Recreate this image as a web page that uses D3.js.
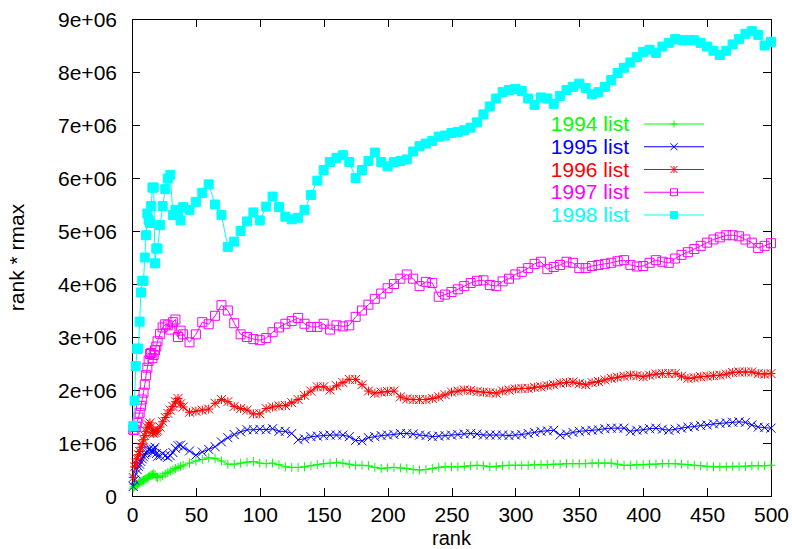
<!DOCTYPE html>
<html>
<head>
<meta charset="utf-8">
<script src="https://cdn.jsdelivr.net/npm/d3@7"></script>
<style>
  body { margin: 0; background: #fff; }
  svg { display: block; font-family: "Liberation Sans", Arial, Helvetica, sans-serif; }
</style>
</head>
<body>
<svg id="chart" width="792" height="549"></svg>
<script>
// rank positions sampled along the x axis
const ranks = [
  1, 2, 3, 4, 5, 6, 7, 8, 9, 10, 11, 12, 13, 14, 15, 16, 17, 18, 19, 20,
  22, 24, 26, 28, 30, 32, 34, 36, 38, 40,
  45, 50, 55, 60, 65, 70, 75, 80, 85, 90,
  95, 100, 105, 110, 115, 120, 125, 130, 135, 140,
  145, 150, 155, 160, 165, 170, 175, 180, 185, 190,
  195, 200, 205, 210, 215, 220, 225, 230, 235, 240,
  245, 250, 255, 260, 265, 270, 275, 280, 285, 290,
  295, 300, 305, 310, 315, 320, 325, 330, 335, 340,
  345, 350, 355, 360, 365, 370, 375, 380, 385, 390,
  395, 400, 405, 410, 415, 420, 425, 430, 435, 440,
  445, 450, 455, 460, 465, 470, 475, 480, 485, 490,
  495, 500
];

// rank * rmax, in units of 1e+06
const list1994 = [
  0.15, 0.18, 0.20, 0.22, 0.24, 0.26, 0.27, 0.28, 0.30, 0.31, 0.33, 0.34, 0.36, 0.38, 0.39, 0.40, 0.42, 0.40, 0.36, 0.35,
  0.36, 0.38, 0.42, 0.44, 0.47, 0.49, 0.52, 0.54, 0.56, 0.58,
  0.62, 0.66, 0.69, 0.72, 0.71, 0.66, 0.60, 0.60, 0.62, 0.64,
  0.65, 0.62, 0.61, 0.62, 0.59, 0.55, 0.54, 0.54, 0.55, 0.57,
  0.59, 0.61, 0.62, 0.63, 0.62, 0.60, 0.58, 0.58, 0.57, 0.54,
  0.52, 0.53, 0.54, 0.53, 0.52, 0.50, 0.49, 0.50, 0.52, 0.54,
  0.55, 0.55, 0.55, 0.56, 0.57, 0.58, 0.57, 0.55, 0.56, 0.57,
  0.58, 0.58, 0.58, 0.58, 0.59, 0.59, 0.59, 0.60, 0.60, 0.61,
  0.61, 0.61, 0.61, 0.62, 0.62, 0.62, 0.62, 0.60, 0.58, 0.58,
  0.59, 0.59, 0.60, 0.60, 0.61, 0.61, 0.61, 0.60, 0.59, 0.58,
  0.57, 0.56, 0.55, 0.55, 0.55, 0.56, 0.56, 0.56, 0.57, 0.57,
  0.57, 0.58
];
const list1995 = [
  0.18, 0.30, 0.42, 0.50, 0.56, 0.60, 0.65, 0.70, 0.74, 0.78, 0.82, 0.85, 0.88, 0.90, 0.86, 0.82, 0.88, 0.92, 0.80, 0.75,
  0.76, 0.80, 0.76, 0.73, 0.76, 0.82, 0.90, 0.95, 0.96, 0.92,
  0.85, 0.77, 0.83, 0.88, 0.93, 1.02, 1.10, 1.16, 1.21, 1.25,
  1.25, 1.26, 1.25, 1.27, 1.22, 1.22, 1.18, 1.06, 1.08, 1.12,
  1.13, 1.14, 1.15, 1.15, 1.15, 1.12, 1.05, 1.04, 1.10, 1.12,
  1.14, 1.15, 1.16, 1.18, 1.18, 1.17, 1.15, 1.14, 1.12, 1.13,
  1.14, 1.15, 1.16, 1.17, 1.18, 1.17, 1.15, 1.15, 1.15, 1.15,
  1.14, 1.15, 1.16, 1.18, 1.20, 1.22, 1.23, 1.24, 1.15, 1.17,
  1.20, 1.22, 1.23, 1.24, 1.25, 1.27, 1.28, 1.28, 1.28, 1.22,
  1.24, 1.25, 1.27, 1.28, 1.26, 1.24, 1.26, 1.28, 1.30, 1.31,
  1.33, 1.34, 1.36, 1.37, 1.38, 1.39, 1.40, 1.39, 1.34, 1.30,
  1.29, 1.28
];
const list1996 = [
  0.35, 0.55, 0.62, 0.70, 0.78, 0.84, 0.92, 0.98, 1.06, 1.14, 1.22, 1.30, 1.34, 1.38, 1.30, 1.20, 1.18, 1.20, 1.22, 1.24,
  1.30, 1.40, 1.48, 1.56, 1.62, 1.69, 1.78, 1.84, 1.74, 1.68,
  1.58, 1.60, 1.62, 1.64, 1.75, 1.82, 1.78, 1.69, 1.65, 1.62,
  1.55, 1.55, 1.65, 1.68, 1.70, 1.71, 1.76, 1.82, 1.90, 1.98,
  2.06, 2.06, 2.00, 2.08, 2.14, 2.20, 2.20, 2.10, 1.98, 1.94,
  1.96, 1.97, 1.98, 1.87, 1.83, 1.82, 1.82, 1.82, 1.84, 1.87,
  1.91, 1.96, 1.98, 2.00, 1.99, 1.97, 1.96, 1.95, 1.94, 1.98,
  2.00, 2.02, 2.03, 2.03, 2.05, 2.06, 2.08, 2.10, 2.13, 2.14,
  2.15, 2.12, 2.10, 2.14, 2.16, 2.19, 2.22, 2.24, 2.26, 2.28,
  2.27, 2.25, 2.28, 2.30, 2.31, 2.31, 2.31, 2.26, 2.22, 2.23,
  2.25, 2.26, 2.27, 2.28, 2.30, 2.33, 2.34, 2.34, 2.34, 2.31,
  2.30, 2.31
];
const list1997 = [
  1.25, 1.25, 1.30, 1.38, 1.48, 1.57, 1.70, 1.82, 1.95, 2.10, 2.28, 2.42, 2.55, 2.68, 2.70, 2.60, 2.66, 2.75, 2.82, 2.92,
  3.06, 3.18, 3.24, 3.22, 3.14, 3.28, 3.33, 3.00, 3.12, 3.05,
  2.90, 3.05, 3.28, 3.24, 3.40, 3.60, 3.50, 3.26, 3.05, 3.00,
  2.96, 2.94, 2.98, 3.09, 3.18, 3.25, 3.30, 3.36, 3.25, 3.19,
  3.19, 3.25, 3.14, 3.22, 3.20, 3.22, 3.38, 3.50, 3.61, 3.72,
  3.82, 3.92, 4.00, 4.10, 4.18, 4.10, 3.96, 4.04, 4.02, 3.76,
  3.80, 3.85, 3.90, 3.96, 4.02, 4.06, 4.07, 3.98, 3.96, 4.05,
  4.10, 4.18, 4.23, 4.30, 4.38, 4.42, 4.28, 4.32, 4.36, 4.42,
  4.40, 4.30, 4.30, 4.34, 4.36, 4.38, 4.40, 4.43, 4.45, 4.36,
  4.33, 4.34, 4.40, 4.45, 4.42, 4.40, 4.48, 4.55, 4.60, 4.66,
  4.72, 4.78, 4.84, 4.88, 4.92, 4.92, 4.90, 4.84, 4.78, 4.68,
  4.72, 4.77
];
const list1998 = [
  1.32, 1.80, 2.45, 2.78, 2.78, 3.29, 3.84, 4.06, 4.06, 4.50, 4.92, 5.33, 5.21, 5.15, 5.47, 5.82, 5.82, 4.39, 4.67, 4.67,
  5.11, 5.47, 5.79, 5.99, 6.06, 5.30, 5.40, 5.30, 5.20, 5.45,
  5.40, 5.55, 5.72, 5.88, 5.50, 5.30, 4.70, 4.80, 5.00, 5.18,
  5.35, 5.20, 5.46, 5.65, 5.45, 5.27, 5.22, 5.25, 5.40, 5.68,
  5.95, 6.15, 6.30, 6.38, 6.43, 6.30, 6.00, 6.15, 6.32, 6.48,
  6.30, 6.22, 6.30, 6.32, 6.35, 6.50, 6.60, 6.65, 6.70, 6.78,
  6.80, 6.85, 6.87, 6.90, 6.95, 7.05, 7.20, 7.35, 7.50, 7.62,
  7.66, 7.68, 7.64, 7.50, 7.38, 7.52, 7.50, 7.40, 7.55, 7.66,
  7.72, 7.78, 7.70, 7.58, 7.62, 7.72, 7.85, 7.98, 8.08, 8.18,
  8.28, 8.38, 8.42, 8.36, 8.48, 8.55, 8.62, 8.60, 8.60, 8.60,
  8.55, 8.48, 8.40, 8.32, 8.40, 8.52, 8.62, 8.72, 8.77, 8.70,
  8.50, 8.57
];

const seriesNames = ["1994 list", "1995 list", "1996 list", "1997 list", "1998 list"];
const seriesValues = [list1994, list1995, list1996, list1997, list1998];
const seriesColors = ["#00ff00", "#0000ff", "#ff0000", "#ff00ff", "#00ffff"];
const seriesMarks = ["plus", "cross", "star", "box", "filledbox"];

const xTicks = [0, 50, 100, 150, 200, 250, 300, 350, 400, 450, 500];
const yTicks = [0, 1, 2, 3, 4, 5, 6, 7, 8, 9];
const yTickLabels = ["0", "1e+06", "2e+06", "3e+06", "4e+06", "5e+06", "6e+06", "7e+06", "8e+06", "9e+06"];

const svg = d3.select("#chart");
const plot = {left: 132, right: 771, top: 19, bottom: 496};
const fontSize = 21;
const tickLen = 8;

const x = d3.scaleLinear().domain([0, 500]).range([plot.left, plot.right]);
const y = d3.scaleLinear().domain([0, 9]).range([plot.bottom, plot.top]);

// axes: inward ticks, mirrored on top and right
const axisStyle = g => {
  g.select(".domain").remove();
  g.selectAll(".tick line").attr("stroke", "#000").attr("stroke-width", 1).attr("shape-rendering", "crispEdges");
  g.selectAll("text").attr("font-size", fontSize).attr("fill", "#000");
};

svg.append("g")
  .attr("transform", `translate(0,${plot.bottom})`)
  .call(d3.axisBottom(x).tickValues(xTicks).tickSizeInner(-tickLen).tickSizeOuter(0))
  .call(axisStyle)
  .call(g => g.selectAll("text").attr("y", 26).attr("dy", null));

svg.append("g")
  .attr("transform", `translate(0,${plot.top})`)
  .call(d3.axisTop(x).tickValues(xTicks).tickSizeInner(-tickLen).tickSizeOuter(0).tickFormat(""))
  .call(axisStyle);

svg.append("g")
  .attr("transform", `translate(${plot.left},0)`)
  .call(d3.axisLeft(y).tickValues(yTicks).tickSizeInner(-tickLen).tickSizeOuter(0)
    .tickFormat((d, i) => yTickLabels[i]))
  .call(axisStyle)
  .call(g => g.selectAll("text").attr("x", -15).attr("dy", null).attr("y", 7));

svg.append("g")
  .attr("transform", `translate(${plot.right},0)`)
  .call(d3.axisRight(y).tickValues(yTicks).tickSizeInner(-tickLen).tickSizeOuter(0).tickFormat(""))
  .call(axisStyle);

svg.append("rect")
  .attr("x", plot.left).attr("y", plot.top)
  .attr("width", plot.right - plot.left).attr("height", plot.bottom - plot.top)
  .attr("fill", "none").attr("stroke", "#000").attr("stroke-width", 1)
  .attr("shape-rendering", "crispEdges");

// axis titles
svg.append("text")
  .attr("x", (plot.left + plot.right) / 2).attr("y", 544.7)
  .attr("text-anchor", "middle").attr("font-size", 20)
  .text("rank");

svg.append("text")
  .attr("transform", `translate(24,${(plot.top + plot.bottom) / 2}) rotate(-90)`)
  .attr("text-anchor", "middle").attr("font-size", fontSize)
  .text("rank * rmax");

// marker shapes like gnuplot point types 1..5
function markPath(type, s) {
  const plus = `M${-s},0H${s}M0,${-s}V${s}`;
  const cross = `M${-s},${-s}L${s},${s}M${-s},${s}L${s},${-s}`;
  const box = `M${-s},${-s}H${s}V${s}H${-s}Z`;
  if (type === "plus") return plus;
  if (type === "cross") return cross;
  if (type === "star") return plus + cross;
  return box;
}

const line = d3.line().x(d => x(d.rank)).y(d => y(d.value));

function drawMark(g, type, color, px, py, s) {
  g.append("path")
    .attr("transform", `translate(${px},${py})`)
    .attr("d", markPath(type, s))
    .attr("fill", type === "filledbox" ? color : "none")
    .attr("stroke", color)
    .attr("stroke-width", 1);
}

const legendRight = 629, legendLine = [644, 704], legendTop = 124, legendStep = 22.75;

seriesValues.forEach((vals, k) => {
  const color = seriesColors[k];
  const pts = ranks.map((r, i) => ({rank: r, value: vals[i]}));
  const g = svg.append("g");

  g.append("path")
    .datum(pts)
    .attr("d", line)
    .attr("fill", "none")
    .attr("stroke", color)
    .attr("stroke-width", 1);

  pts.forEach(p => drawMark(g, seriesMarks[k], color, x(p.rank), y(p.value), 4.5));

  // legend entry
  const ly = legendTop + k * legendStep;
  g.append("text")
    .attr("x", legendRight).attr("y", ly + 7)
    .attr("text-anchor", "end").attr("font-size", fontSize)
    .attr("fill", color)
    .text(seriesNames[k]);
  g.append("line")
    .attr("x1", legendLine[0]).attr("x2", legendLine[1])
    .attr("y1", ly).attr("y2", ly)
    .attr("stroke", color).attr("stroke-width", 1);
  drawMark(g, seriesMarks[k], color, (legendLine[0] + legendLine[1]) / 2, ly, 3.5);
});
</script>
</body>
</html>
